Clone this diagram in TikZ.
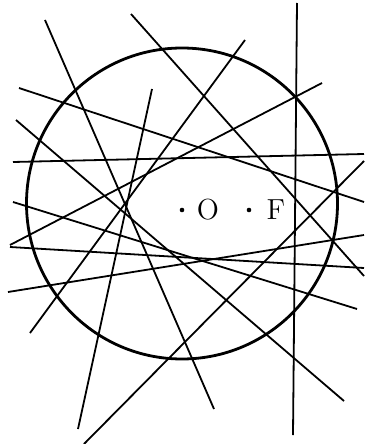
\documentclass[tikz,border=0pt]{standalone}
\usepackage{tikz}
\usetikzlibrary{positioning}

\begin{document}
\begin{tikzpicture}[x=0.5pt, y=-0.5pt,
    chord/.style={line width=0.9pt},
    rim/.style={line width=1.4pt},
    pt/.style={circle, fill, inner sep=0pt, minimum size=2.3pt},
    lab/.style={font=\fontsize{14.5}{17}\selectfont, inner sep=0pt}]
    % Frame
    \useasboundingbox (0,0) rectangle (364,444);

    % Circle
    \draw[rim] (182,203.5) circle (77.75pt);

    % Lines
    \draw[chord] (45,20) -- (214,409);
    \draw[chord] (131,14) -- (364,276);
    \draw[chord] (19,88) -- (364,202);
    \draw[chord] (16,120) -- (344,401);
    \draw[chord] (13,162) -- (364,154);
    \draw[chord] (13,202) -- (357,309);
    \draw[chord] (152,89) -- (78,429);
    \draw[chord] (30,333) -- (245,40);
    \draw[chord] (8,292) -- (364,235);
    \draw[chord] (10,247) -- (364,268);
    \draw[chord] (10,245) -- (322,83);
    \draw[chord] (364,161) -- (84,444);

    % Vertical line
    \draw[chord] (297,3) -- (293,435);

    % Points O and F
    \node[pt] (o) at (182,210) {};
    \node[lab, right=5.9pt of o] (olab) {O};
    \node[pt] (f) at (249,210) {};
    \node[lab, right=7.3pt of f] (flab) {F};
\end{tikzpicture}
\end{document}
